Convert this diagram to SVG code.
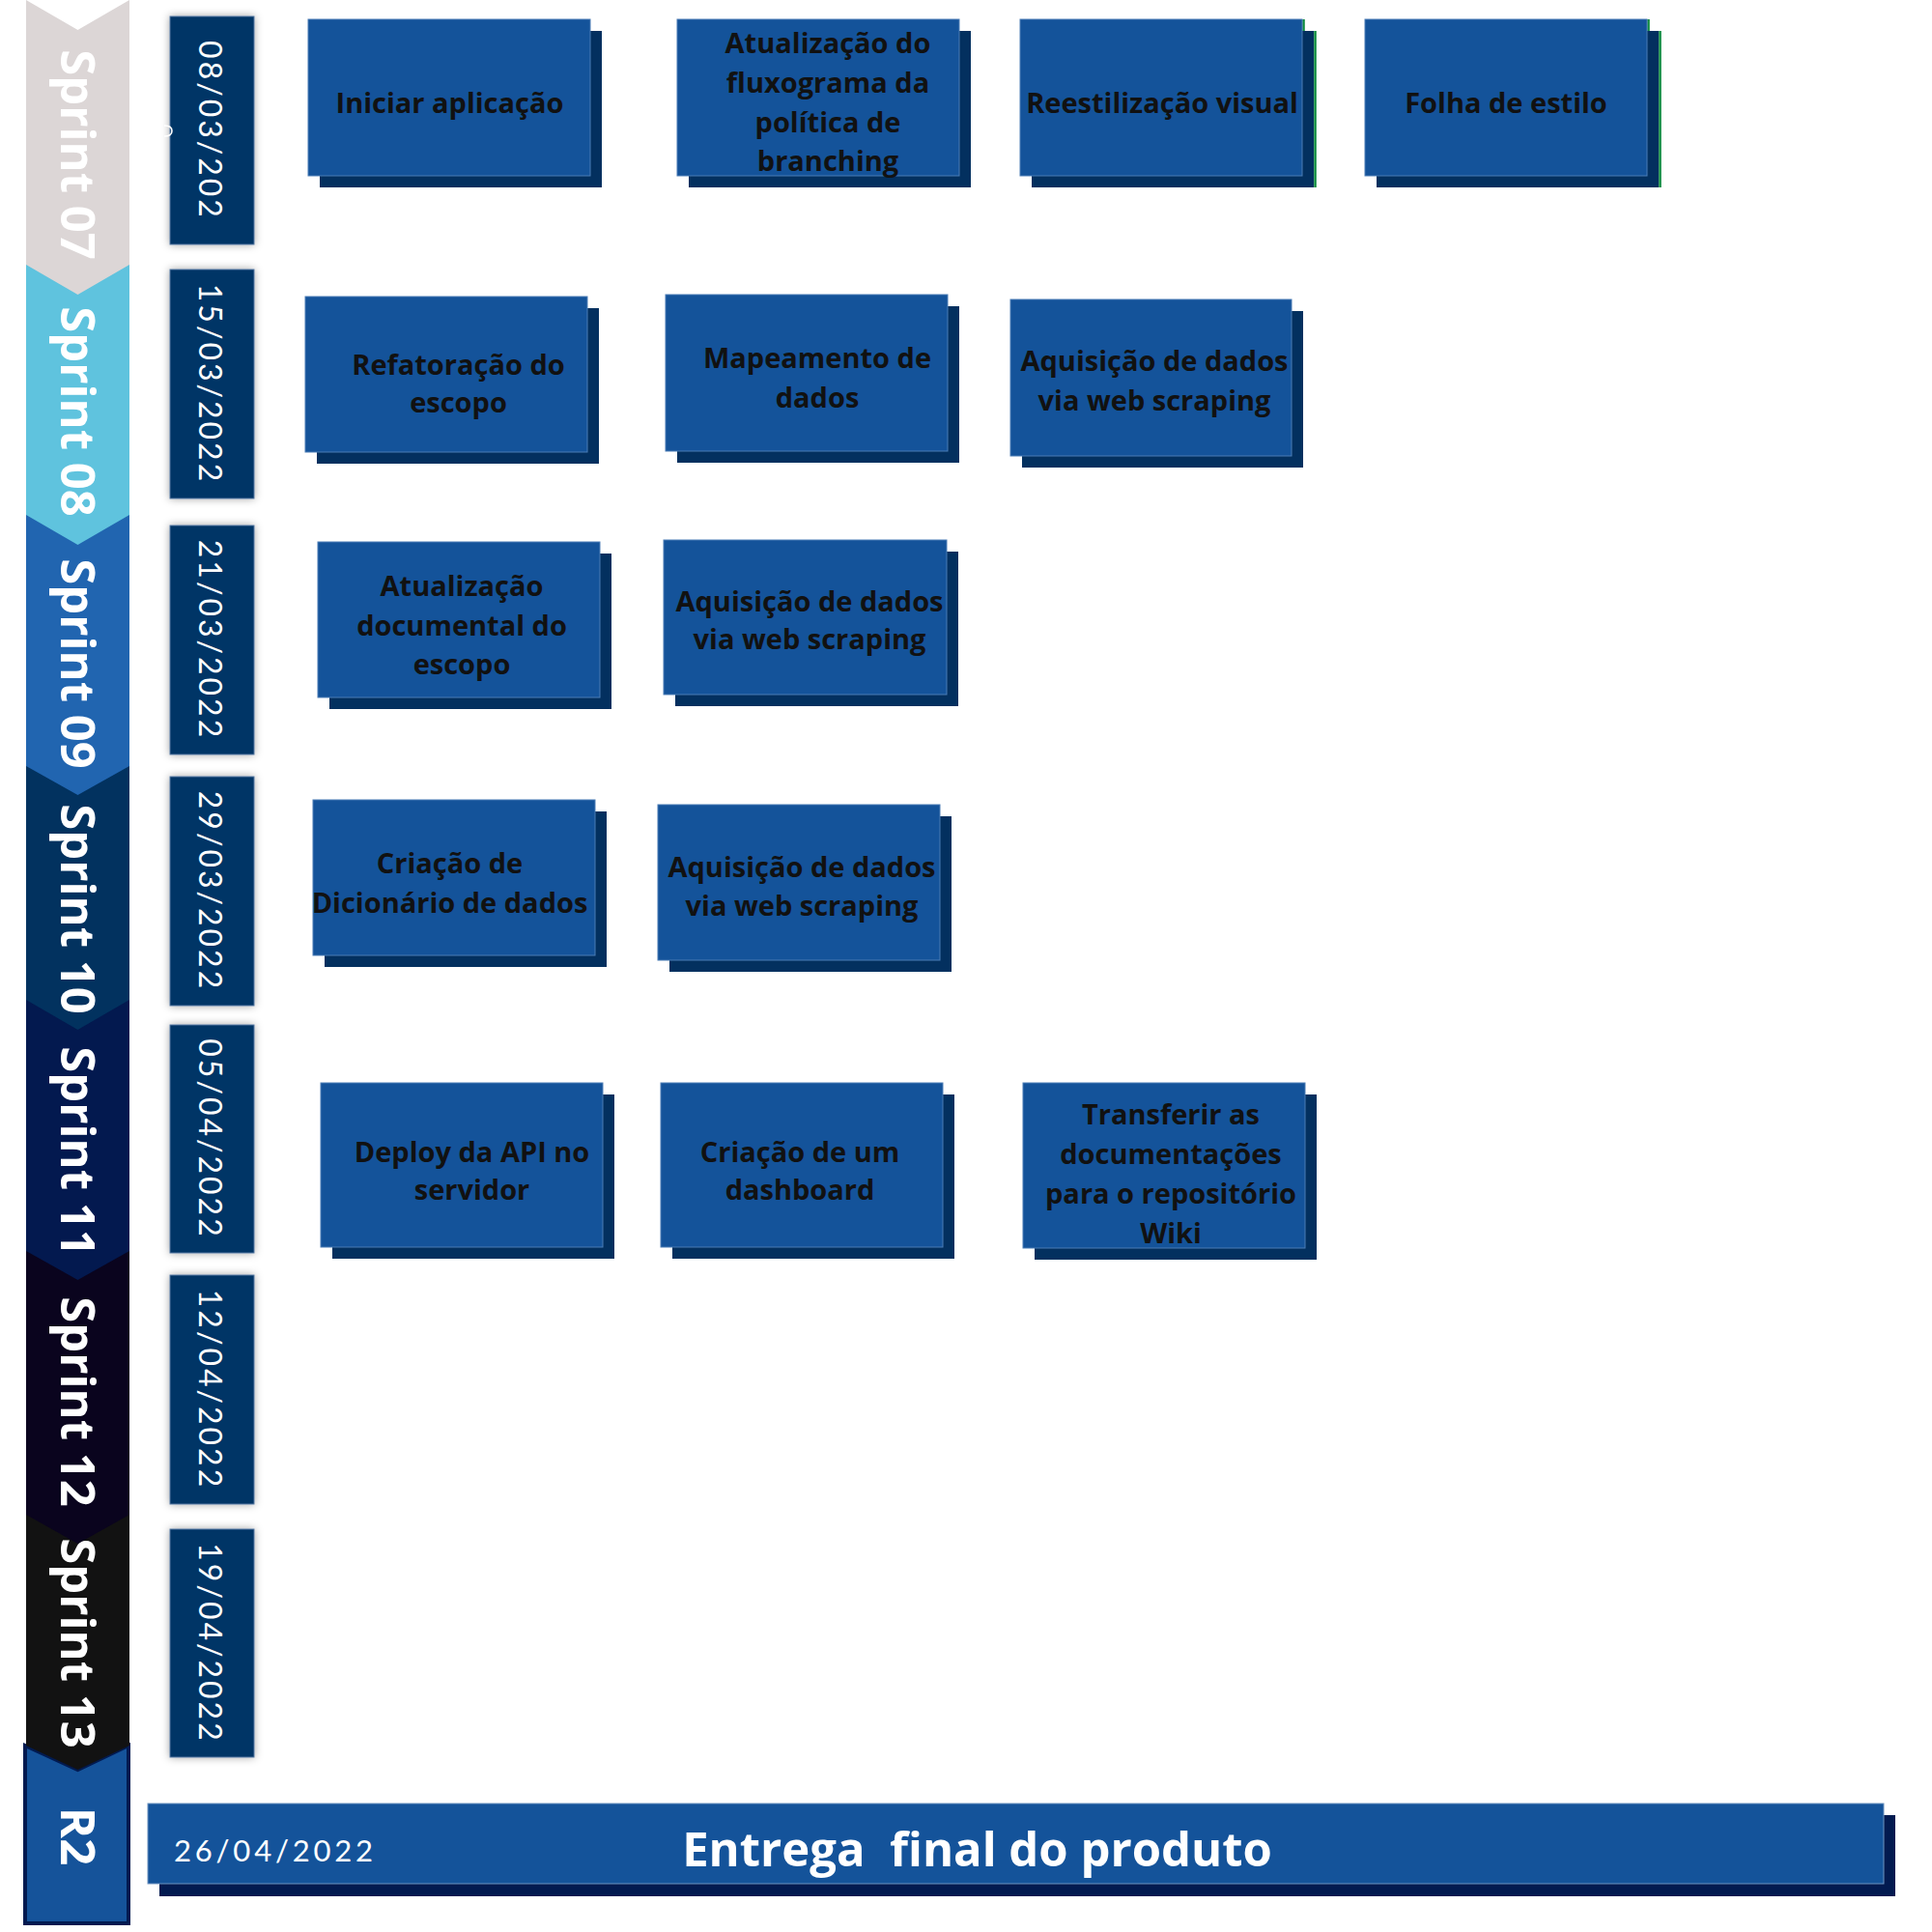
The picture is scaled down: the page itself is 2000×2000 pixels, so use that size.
<svg xmlns="http://www.w3.org/2000/svg" width="2000" height="2000" viewBox="0 0 2000 2000">
  <defs>
    <filter id="dateShadow" x="-30%" y="-10%" width="160%" height="120%">
      <feDropShadow dx="0" dy="0" stdDeviation="4" flood-color="#000" flood-opacity="0.35"/>
    </filter>
  </defs>
  <style>
    .face { fill: #14539A; stroke: #4b7db5; stroke-width: 1; }
    .shade { fill: #03305F; }
    .edge { stroke: #0b8a3c; stroke-width: 2.5; fill: none; }
    .task text { font-family: "Open Sans", "Liberation Sans", sans-serif; font-weight: 700; font-size: 29px; fill: #111; text-anchor: middle; }
    .sprint text { font-family: "Open Sans", "Liberation Sans", sans-serif; font-weight: 700; font-size: 49px; fill: #fff; text-anchor: middle; }
    .date rect { fill: #033466; stroke: #5577a0; stroke-width: 1; }
    .date text { font-family: Lato, "Liberation Sans", sans-serif; font-weight: 400; font-size: 32px; fill: #fff; letter-spacing: 3px; text-anchor: middle; }
    .bar-date { font-family: Lato, "Liberation Sans", sans-serif; font-weight: 400; font-size: 31px; fill: #fff; letter-spacing: 3.8px; }
    .bar-title { font-family: "Open Sans", "Liberation Sans", sans-serif; font-weight: 700; font-size: 49px; fill: #fff; text-anchor: middle; }
  </style>

  <rect width="2000" height="2000" fill="#fff"/>

  <!-- Sprint ribbon, painted bottom-up so each chevron tip overlaps the next band -->
  <g id="sprint-r2" class="sprint">
    <polygon points="26,1807 80.5,1832 133,1807 133,1991 26,1991" fill="#15539A" stroke="#021A50" stroke-width="4"/>
    <text transform="translate(63,1901) rotate(90)">R2</text>
  </g>
  <g id="sprint-13" class="sprint">
    <polygon points="27,1568 134,1568 134,1807 80.5,1832 27,1807" fill="#121212"/>
    <text transform="translate(63,1701) rotate(90)">Sprint 13</text>
  </g>
  <g id="sprint-12" class="sprint">
    <polygon points="27,1295 134,1295 134,1568 80.5,1598 27,1568" fill="#0A041E"/>
    <text transform="translate(63,1451) rotate(90)">Sprint 12</text>
  </g>
  <g id="sprint-11" class="sprint">
    <polygon points="27,1035 134,1035 134,1295 80.5,1325 27,1295" fill="#03194F"/>
    <text transform="translate(63,1192) rotate(90)">Sprint 11</text>
  </g>
  <g id="sprint-10" class="sprint">
    <polygon points="27,793 134,793 134,1035 80.5,1066 27,1035" fill="#02325F"/>
    <text transform="translate(63,941) rotate(90)">Sprint 10</text>
  </g>
  <g id="sprint-09" class="sprint">
    <polygon points="27,533 134,533 134,793 80.5,823 27,793" fill="#2165B0"/>
    <text transform="translate(63,687) rotate(90)">Sprint 09</text>
  </g>
  <g id="sprint-08" class="sprint">
    <polygon points="27,274 134,274 134,533 80.5,564 27,533" fill="#5FC3DE"/>
    <text transform="translate(63,426) rotate(90)">Sprint 08</text>
  </g>
  <g id="sprint-07" class="sprint">
    <polygon points="27,0 80.5,31 134,0 134,274 80.5,305 27,274" fill="#DCD6D6"/>
    <text transform="translate(63,160) rotate(90)">Sprint 07</text>
  </g>

  <!-- Date tabs -->
  <g id="date-1" class="date">
    <rect x="176" y="17" width="87" height="236" filter="url(#dateShadow)"/>
    <text transform="translate(206,135) rotate(90)">08/03/202</text>
    <path d="M170,130 Q178,130 178,135.5 Q178,141 170,141" stroke="#fff" stroke-width="1.6" fill="none"/>
  </g>
  <g id="date-2" class="date">
    <rect x="176" y="279" width="87" height="237" filter="url(#dateShadow)"/>
    <text transform="translate(206,397.5) rotate(90)">15/03/2022</text>
  </g>
  <g id="date-3" class="date">
    <rect x="176" y="544" width="87" height="237" filter="url(#dateShadow)"/>
    <text transform="translate(206,662.5) rotate(90)">21/03/2022</text>
  </g>
  <g id="date-4" class="date">
    <rect x="176" y="804" width="87" height="237" filter="url(#dateShadow)"/>
    <text transform="translate(206,922.5) rotate(90)">29/03/2022</text>
  </g>
  <g id="date-5" class="date">
    <rect x="176" y="1061" width="87" height="236" filter="url(#dateShadow)"/>
    <text transform="translate(206,1179) rotate(90)">05/04/2022</text>
  </g>
  <g id="date-6" class="date">
    <rect x="176" y="1320" width="87" height="237" filter="url(#dateShadow)"/>
    <text transform="translate(206,1438.5) rotate(90)">12/04/2022</text>
  </g>
  <g id="date-7" class="date">
    <rect x="176" y="1583" width="87" height="236" filter="url(#dateShadow)"/>
    <text transform="translate(206,1701) rotate(90)">19/04/2022</text>
  </g>

  <!-- Task cards: face with offset shade -->
  <g id="task-iniciar-aplicacao" class="task">
    <rect class="shade" x="331" y="32" width="292" height="162"/>
    <rect class="face" x="319" y="20" width="292" height="162"/>
    <text x="465.5" y="117">Iniciar aplicação</text>
  </g>
  <g id="task-fluxograma-branching" class="task">
    <rect class="shade" x="713" y="32" width="292" height="162"/>
    <rect class="face" x="701" y="20" width="292" height="162"/>
    <text x="857" y="55">Atualização do</text>
    <text x="857" y="96">fluxograma da</text>
    <text x="857" y="137">política de</text>
    <text x="857" y="177">branching</text>
  </g>
  <g id="task-reestilizacao-visual" class="task">
    <rect class="shade" x="1068" y="32" width="292" height="162"/>
    <path class="edge" d="M1349.5,20 V32 M1361.5,32 V194"/>
    <rect class="face" x="1056" y="20" width="292" height="162"/>
    <text x="1203" y="117">Reestilização visual</text>
  </g>
  <g id="task-folha-de-estilo" class="task">
    <rect class="shade" x="1425" y="32" width="292" height="162"/>
    <path class="edge" d="M1706.5,20 V32 M1718.5,32 V194"/>
    <rect class="face" x="1413" y="20" width="292" height="162"/>
    <text x="1559" y="117">Folha de estilo</text>
  </g>

  <g id="task-refatoracao-escopo" class="task">
    <rect class="shade" x="328" y="319" width="292" height="161"/>
    <rect class="face" x="316" y="307" width="292" height="161"/>
    <text x="474.5" y="387.5">Refatoração do</text>
    <text x="474.5" y="427">escopo</text>
  </g>
  <g id="task-mapeamento-dados" class="task">
    <rect class="shade" x="701" y="317" width="292" height="162"/>
    <rect class="face" x="689" y="305" width="292" height="162"/>
    <text x="846" y="381">Mapeamento de</text>
    <text x="846" y="422">dados</text>
  </g>
  <g id="task-web-scraping-1" class="task">
    <rect class="shade" x="1058" y="322" width="291" height="162"/>
    <rect class="face" x="1046" y="310" width="291" height="162"/>
    <text x="1195" y="384">Aquisição de dados</text>
    <text x="1195" y="424.5">via web scraping</text>
  </g>

  <g id="task-atualizacao-documental" class="task">
    <rect class="shade" x="341" y="573" width="292" height="161"/>
    <rect class="face" x="329" y="561" width="292" height="161"/>
    <text x="478" y="617">Atualização</text>
    <text x="478" y="658">documental do</text>
    <text x="478" y="697.5">escopo</text>
  </g>
  <g id="task-web-scraping-2" class="task">
    <rect class="shade" x="699" y="571" width="293" height="160"/>
    <rect class="face" x="687" y="559" width="293" height="160"/>
    <text x="838" y="632.5">Aquisição de dados</text>
    <text x="838" y="672">via web scraping</text>
  </g>

  <g id="task-dicionario-dados" class="task">
    <rect class="shade" x="336" y="840" width="292" height="161"/>
    <rect class="face" x="324" y="828" width="292" height="161"/>
    <text x="465.5" y="904">Criação de</text>
    <text x="465.5" y="945">Dicionário de dados</text>
  </g>
  <g id="task-web-scraping-3" class="task">
    <rect class="shade" x="693" y="845" width="292" height="161"/>
    <rect class="face" x="681" y="833" width="292" height="161"/>
    <text x="830" y="908">Aquisição de dados</text>
    <text x="830" y="947.5">via web scraping</text>
  </g>

  <g id="task-deploy-api" class="task">
    <rect class="shade" x="344" y="1133" width="292" height="170"/>
    <rect class="face" x="332" y="1121" width="292" height="170"/>
    <text x="488.5" y="1202.5">Deploy da API no</text>
    <text x="488.5" y="1242">servidor</text>
  </g>
  <g id="task-dashboard" class="task">
    <rect class="shade" x="696" y="1133" width="292" height="170"/>
    <rect class="face" x="684" y="1121" width="292" height="170"/>
    <text x="828" y="1202.5">Criação de um</text>
    <text x="828" y="1242">dashboard</text>
  </g>
  <g id="task-wiki" class="task">
    <rect class="shade" x="1071" y="1133" width="292" height="171"/>
    <rect class="face" x="1059" y="1121" width="292" height="171"/>
    <text x="1212" y="1164">Transferir as</text>
    <text x="1212" y="1205">documentações</text>
    <text x="1212" y="1246">para o repositório</text>
    <text x="1212" y="1287">Wiki</text>
  </g>

  <!-- Final delivery bar -->
  <g id="final-delivery">
    <rect x="165" y="1879" width="1797" height="84" fill="#021A50"/>
    <rect x="153" y="1867" width="1797" height="83" fill="#14539A" stroke="#6d93c0" stroke-width="1"/>
    <text class="bar-date" x="180" y="1927">26/04/2022</text>
    <text class="bar-title" x="1011.5" y="1932" xml:space="preserve">Entrega  final do produto</text>
  </g>
</svg>
